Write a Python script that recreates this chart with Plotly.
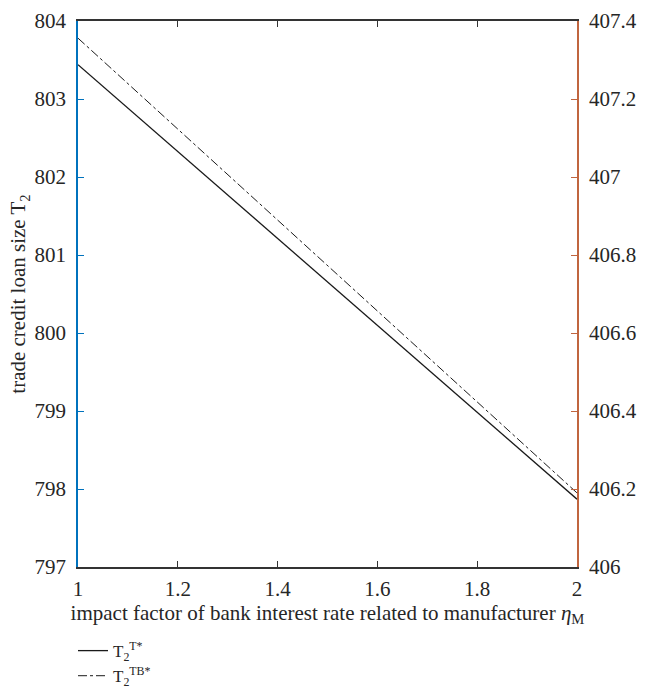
import plotly.graph_objects as go

eta_m = [1, 2]
t2_t = [803.44, 797.87]
t2_tb = [803.78, 797.95]
x_ticks = [1, 1.2, 1.4, 1.6, 1.8, 2]
y_ticks = [797, 798, 799, 800, 801, 802, 803, 804]
y2_ticks = [406, 406.2, 406.4, 406.6, 406.8, 407, 407.2, 407.4]

FONT = "Liberation Serif"

fig = go.Figure()
fig.add_trace(go.Scatter(x=eta_m, y=t2_t, mode="lines", name="T<sub>2</sub><sup>T*</sup>",
                         line=dict(color="#1a1a1a", width=1.3)))
fig.add_trace(go.Scatter(x=eta_m, y=t2_tb, mode="lines", name="T<sub>2</sub><sup>TB*</sup>",
                         line=dict(color="#1a1a1a", width=1, dash="dashdot")))
# invisible trace to activate right axis
fig.add_trace(go.Scatter(x=[1], y=[406], yaxis="y2", mode="markers", marker=dict(opacity=0),
                         showlegend=False, hoverinfo="skip"))

fig.update_layout(
    width=650, height=688,
    margin=dict(l=78, r=73, t=21, b=121, autoexpand=False),
    plot_bgcolor="white", paper_bgcolor="white",
    font=dict(family=FONT, size=21, color="#262626"),
    xaxis=dict(range=[1, 2], tickvals=x_ticks, ticktext=[str(v) for v in x_ticks],
               ticks="inside", ticklen=6, tickcolor="#333", showline=True, linecolor="#333",
               linewidth=1.5, mirror="ticks", showgrid=False, zeroline=False,
               ticklabelstandoff=2, automargin=False,
               title=dict(text="impact factor of bank interest rate related to manufacturer <i>η</i><sub>M</sub>",
                          standoff=4, font=dict(size=21))),
    yaxis=dict(range=[797, 804], tickvals=y_ticks, ticks="inside", ticklen=6,
               tickcolor="#0072BD", showline=True, linecolor="#0072BD", linewidth=1.5,
               showgrid=False, zeroline=False, ticklabelstandoff=6, automargin=False,
               title=dict(text="trade credit loan size T<sub>2</sub>", standoff=3, font=dict(size=21))),
    yaxis2=dict(range=[406, 407.4], tickvals=y2_ticks, ticktext=[f"{v:g}" for v in y2_ticks],
                overlaying="y", side="right", ticks="inside", ticklen=6,
                tickcolor="#C0653F", showline=True, linecolor="#C0653F", linewidth=1.5,
                showgrid=False, zeroline=False, ticklabelstandoff=6, automargin=False),
    legend=dict(x=-0.01, y=-0.121, xanchor="left", yanchor="top", bgcolor="rgba(0,0,0,0)",
                font=dict(size=17), tracegroupgap=0, itemwidth=30),
    showlegend=True,
)

fig.write_html("out.html")
